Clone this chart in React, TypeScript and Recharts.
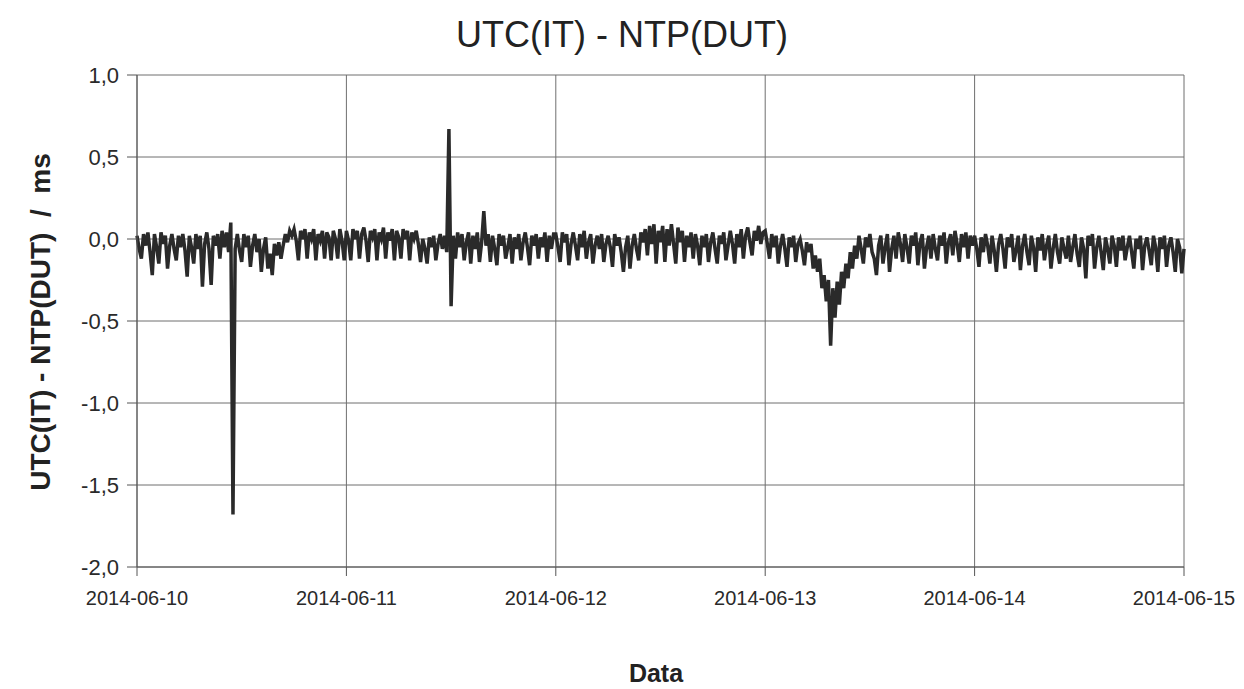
import { LineChart, Line, XAxis, YAxis, CartesianGrid } from "recharts";

// x axis: hours since 2014-06-10 00:00, one sample every 15 min
const dateLabels = ["2014-06-10", "2014-06-11", "2014-06-12", "2014-06-13", "2014-06-14", "2014-06-15"];
const xTicks = [0, 24, 48, 72, 96, 120];
const yTicks = [-2, -1.5, -1, -0.5, 0, 0.5, 1];

// UTC(IT) - NTP(DUT) in ms, one row = 2 hours
const day10 = [
  0.02, -0.06, -0.12, 0.03, -0.04, 0.04, -0.08, -0.22,
  0.03, -0.05, -0.15, 0.04, -0.03, 0.02, -0.18, -0.04,
  0.03, -0.06, -0.13, 0.02, -0.05, 0.03, -0.07, -0.23,
  0.02, -0.05, -0.15, 0.03, -0.06, 0.02, -0.29, -0.03,
  0.04, -0.06, -0.28, 0.02, -0.04, 0.03, -0.12, 0.05,
  -0.05, 0.04, -0.08, 0.1, -1.68, -0.06, 0.03, -0.07,
  -0.14, 0.03, -0.05, 0.02, -0.17, -0.04, 0.03, -0.08,
  0.0, -0.2, -0.06, 0.01, -0.18, -0.09, -0.22, -0.03,
  -0.1, -0.02, -0.12, -0.04, 0.03, -0.02, 0.05, 0.02,
  0.06, -0.01, -0.13, 0.05, 0.0, 0.06, -0.12, 0.04,
  0.0, 0.06, -0.13, 0.03, -0.01, 0.05, -0.12, 0.04,
  0.01, -0.13, 0.05, 0.0, -0.12, 0.06, -0.01, -0.13,
];
const day11 = [
  0.05, -0.01, -0.13, 0.06, 0.0, 0.05, -0.12, 0.03,
  0.07, -0.01, -0.14, 0.05, 0.01, 0.06, -0.13, 0.04,
  0.0, 0.07, -0.12, 0.04, -0.01, 0.06, -0.13, 0.05,
  0.01, -0.12, 0.06, 0.0, 0.05, -0.13, 0.04, 0.0,
  0.05, -0.03, -0.14, 0.0, -0.06, -0.15, 0.01, -0.05,
  0.02, -0.13, -0.03, 0.03, -0.06, 0.02, -0.08, 0.67,
  -0.41, 0.02, -0.12, 0.04, -0.05, 0.03, -0.13, -0.02,
  0.04, -0.15, 0.02, -0.06, 0.04, -0.14, -0.02, 0.17,
  -0.04, 0.03, -0.14, 0.02, -0.06, -0.16, 0.03, -0.04,
  0.02, -0.12, -0.05, 0.03, -0.15, 0.01, -0.06, 0.03,
  -0.13, -0.02, 0.04, -0.05, -0.16, 0.02, -0.04, 0.03,
  -0.12, 0.01, -0.05, 0.04, -0.14, 0.02, -0.06, 0.03,
];
const day12 = [
  0.03, -0.05, -0.14, 0.04, -0.02, 0.03, -0.16, -0.03,
  0.04, -0.04, -0.13, 0.03, -0.05, 0.05, -0.12, -0.02,
  0.03, -0.15, -0.04, 0.02, -0.06, 0.03, -0.14, -0.03,
  0.02, -0.05, -0.17, 0.03, -0.04, 0.01, -0.08, -0.2,
  -0.05, 0.02, -0.18, -0.04, 0.03, -0.06, -0.13, 0.04,
  -0.02, 0.06, -0.1, 0.08, -0.03, 0.09, -0.15, 0.05,
  -0.02, 0.08, -0.14, 0.06, -0.04, 0.09, -0.03, -0.15,
  0.07, -0.02, 0.05, -0.14, 0.02, -0.05, 0.04, -0.12,
  0.03, -0.04, -0.16, 0.02, -0.05, 0.03, -0.14, -0.02,
  0.04, -0.06, -0.15, 0.02, -0.03, 0.04, -0.13, -0.04,
  0.05, -0.03, -0.15, 0.03, -0.05, 0.06, -0.12, 0.02,
  0.07, -0.02, -0.1, 0.05, -0.01, 0.08, -0.03, 0.04,
];
const day13 = [
  0.05, -0.03, -0.12, 0.03, -0.05, 0.02, -0.15, -0.04,
  0.03, -0.06, -0.17, 0.01, -0.05, 0.02, -0.14, -0.03,
  0.0, -0.07, -0.16, -0.02, -0.08, -0.03, -0.18, -0.1,
  -0.2, -0.12, -0.3, -0.22, -0.38, -0.25, -0.65, -0.3,
  -0.48, -0.26, -0.4, -0.2, -0.3, -0.15, -0.24, -0.08,
  -0.18, -0.04, -0.12, 0.02, -0.06, -0.15, 0.01, -0.05,
  0.03, -0.08, -0.12, -0.22, -0.04, 0.02, -0.15, -0.05,
  0.03, -0.2, -0.06, 0.02, -0.12, 0.04, -0.03, -0.14,
  0.03, -0.05, -0.15, 0.02, -0.04, 0.04, -0.16, -0.02,
  0.03, -0.18, -0.05, 0.02, -0.12, 0.03, -0.06, -0.13,
  0.02, -0.04, 0.04, -0.15, -0.02, 0.03, -0.1, 0.05,
  -0.03, -0.14, 0.03, -0.05, 0.04, -0.12, 0.02, -0.04,
];
const day14 = [
  0.02, -0.06, -0.17, 0.01, -0.08, 0.03, -0.04, -0.15,
  0.02, -0.07, -0.2, -0.03, 0.03, -0.06, -0.18, 0.01,
  -0.05, 0.03, -0.14, -0.07, 0.02, -0.19, -0.04, 0.03,
  -0.08, -0.16, 0.02, -0.05, -0.2, 0.01, -0.07, 0.03,
  -0.13, -0.04, 0.02, -0.18, -0.06, 0.03, -0.08, -0.15,
  0.01, -0.06, -0.12, 0.02, -0.14, -0.05, 0.03, -0.09,
  -0.17, 0.01, -0.06, -0.24, 0.02, -0.04, 0.03, -0.18,
  -0.05, 0.02, -0.08, -0.19, 0.01, -0.06, -0.15, 0.02,
  -0.04, -0.17, 0.01, -0.07, 0.02, -0.13, -0.05, 0.02,
  -0.08, -0.18, 0.0, -0.06, 0.02, -0.19, -0.04, 0.01,
  -0.07, -0.16, 0.02, -0.05, -0.2, 0.01, -0.06, 0.02,
  -0.17, -0.04, 0.01, -0.08, -0.2, 0.0, -0.05, -0.21,
];
const lastValue = -0.06;

const days = [day10, day11, day12, day13, day14];
const data = days.flatMap((vals, d) => vals.map((v, j) => ({ h: d * 24 + j * 0.25, v })));
data.push({ h: 120, v: lastValue });

const fmtY = (v: number) => v.toFixed(1).replace(".", ",");
const fmtX = (v: number) => dateLabels[Math.round(v / 24)] ?? "";

const font = "'Liberation Sans', Arial, sans-serif";

export default function App() {
  return (
    <div style={{ position: "absolute", left: 0, top: 0, background: "#fff" }}>
      <LineChart width={1244} height={689} data={data} margin={{ top: 75, right: 60, left: 0, bottom: 0 }}>
        <CartesianGrid stroke="#6f6f6f" strokeWidth={1} horizontalValues={yTicks} verticalValues={xTicks} />
        <XAxis
          type="number"
          dataKey="h"
          domain={[0, 120]}
          ticks={xTicks}
          tickFormatter={fmtX}
          height={122}
          tickSize={9}
          tickMargin={15}
          stroke="#555"
          tick={{ fill: "#2a2a2a", fontSize: 20, fontFamily: font }}
          interval={0}
        />
        <YAxis
          type="number"
          domain={[-2, 1]}
          ticks={yTicks}
          tickFormatter={fmtY}
          width={137}
          tickSize={10}
          tickMargin={8}
          stroke="#555"
          tick={{ fill: "#2a2a2a", fontSize: 22, fontFamily: font }}
          interval={0}
        />
        <Line
          type="linear"
          dataKey="v"
          stroke="#2a2a2a"
          strokeWidth={3.5}
          dot={false}
          isAnimationActive={false}
        />
        <text x={622} y={47} textAnchor="middle" fontSize={36} fontFamily={font} fill="#222">
          UTC(IT) - NTP(DUT)
        </text>
        <text
          x={50}
          y={322}
          transform="rotate(-90 50 322)"
          textAnchor="middle"
          fontSize={28}
          fontWeight="bold"
          fontFamily={font}
          fill="#222"
          style={{ whiteSpace: "pre" }}
        >
          {"UTC(IT) - NTP(DUT)  /  ms"}
        </text>
        <text x={656} y={682} textAnchor="middle" fontSize={25} fontWeight="bold" fontFamily={font} fill="#222">
          Data
        </text>
      </LineChart>
    </div>
  );
}
